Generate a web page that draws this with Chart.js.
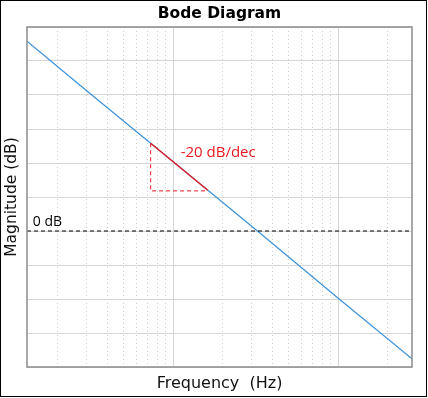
<!DOCTYPE html>
<html>
<head>
<meta charset="utf-8">
<script src="https://cdn.jsdelivr.net/npm/chart.js@4"></script>
<style>
  html, body { margin: 0; padding: 0; background: #fff; }
  #frame { width: 425px; height: 395px; border: 1px solid #000; }
  canvas { display: block; }
</style>
</head>
<body>
<div id="frame"><canvas id="bode" width="425" height="395"></canvas></div>
<script>
// values
const freq = [1.3, 3, 10, 32, 100, 280];
const magnitude = [27.9, 20.6, 10.2, 0.1, -9.9, -18.8];

const slopeFreq = [7.3, 16.2];
const slopeMag = [12.9, 5.9];

const zeroLine = [1.3, 280];

const decadeTicks = [10, 100];
const minorTicks = [2, 3, 4, 5, 6, 7, 8, 9, 20, 30, 40, 50, 60, 70, 80, 90, 200];

const xMin = 1.3, xMax = 280;
const yMin = -20, yMax = 30, yStep = 5;

const labels = [
    { text: '-20 dB/dec', f: 11.1, db: 11.5, color: '#e8191e', font: '15px "Open Sans"' },
    { text: '0 dB', f: 1.41, db: 1.3, color: '#000', font: '14px "Open Sans"' }
];

/* Helpers */

function pts(xs, ys) {
    return xs.map((x, i) => ({ x, y: ys[i] }));
}

const textPlugin = {
    id: 'textPlugin',
    afterDatasetsDraw(chart) {
        const ctx = chart.ctx;
        const xs = chart.scales.x, ys = chart.scales.y;
        ctx.save();
        labels.forEach(l => {
            ctx.font = l.font;
            ctx.fillStyle = l.color;
            ctx.textBaseline = 'middle';
            ctx.textAlign = 'left';
            ctx.fillText(l.text, xs.getPixelForValue(l.f), ys.getPixelForValue(l.db));
        });
        const a = chart.chartArea;
        ctx.strokeStyle = '#8c8c8c';
        ctx.lineWidth = 1.5;
        ctx.strokeRect(a.left, a.top, a.right - a.left, a.bottom - a.top);
        ctx.restore();
    }
};

const ctx = document.getElementById('bode');

new Chart(ctx, {
    type: 'line',
    data: {
        datasets: [
            {
                data: pts(freq, magnitude),
                borderColor: '#3f94da',
                borderWidth: 1.3,
                pointRadius: 0,
                order: 3
            },
            {
                data: [{ x: slopeFreq[0], y: slopeMag[0] }, { x: slopeFreq[0], y: slopeMag[1] }, { x: slopeFreq[1], y: slopeMag[1] }],
                borderColor: '#e8191e',
                borderWidth: 1,
                borderDash: [4, 3],
                pointRadius: 0,
                order: 2
            },
            {
                data: [{ x: slopeFreq[0], y: slopeMag[0] }, { x: slopeFreq[1], y: 6.0 }],
                borderColor: '#e8191e',
                borderWidth: 1.3,
                pointRadius: 0,
                order: 1
            },
            {
                data: pts(zeroLine, [0, 0]),
                borderColor: '#000',
                borderWidth: 1,
                borderDash: [4, 3],
                pointRadius: 0,
                order: 0
            }
        ]
    },
    options: {
        responsive: false,
        animation: false,
        layout: { padding: { left: 0, right: 14, top: 0, bottom: 0 } },
        plugins: {
            legend: { display: false },
            tooltip: { enabled: false },
            title: {
                display: true,
                fullSize: false,
                text: 'Bode Diagram',
                color: '#000',
                font: { family: 'DejaVu Sans', size: 15.5, weight: 'bold', lineHeight: 1.2 },
                padding: { top: 4, bottom: 3.4 }
            }
        },
        scales: {
            x: {
                type: 'logarithmic',
                min: xMin,
                max: xMax,
                afterBuildTicks: s => { s.ticks = decadeTicks.map(v => ({ value: v })); },
                afterFit: s => { s.height = 29; },
                ticks: { display: false },
                grid: { color: '#d6d6d6', lineWidth: 1, drawTicks: false },
                border: { display: false },
                title: {
                    display: true,
                    text: 'Frequency  (Hz)',
                    color: '#111',
                    font: { family: 'DejaVu Sans', size: 16 },
                    padding: { top: 0, bottom: 3 }
                }
            },
            x2: {
                type: 'logarithmic',
                position: 'bottom',
                min: xMin,
                max: xMax,
                afterBuildTicks: s => { s.ticks = minorTicks.map(v => ({ value: v })); },
                afterFit: s => { s.height = 0; },
                ticks: { display: false },
                grid: { color: '#cdcdcd', lineWidth: 1, drawTicks: false },
                border: { display: false, dash: [1, 3] }
            },
            y: {
                min: yMin,
                max: yMax,
                afterFit: s => { s.width = 26; },
                ticks: { display: false, stepSize: yStep },
                grid: { color: '#d6d6d6', lineWidth: 1, drawTicks: false },
                border: { display: false },
                title: {
                    display: true,
                    text: 'Magnitude (dB)',
                    color: '#111',
                    font: { family: 'DejaVu Sans', size: 15.5 },
                    padding: { top: 2, bottom: 0 }
                }
            }
        }
    },
    plugins: [textPlugin]
});
</script>
</body>
</html>
